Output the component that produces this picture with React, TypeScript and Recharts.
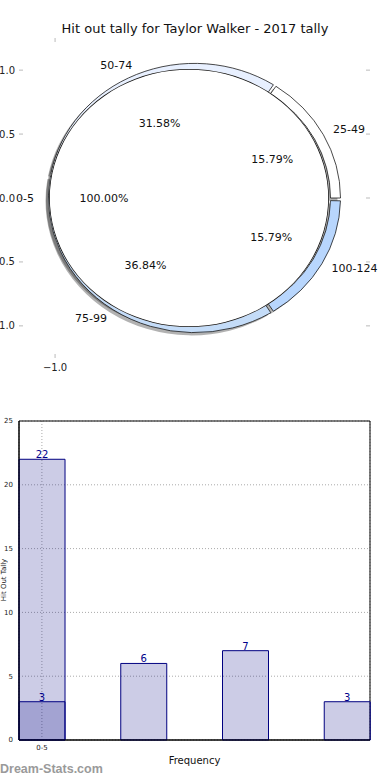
import {
  PieChart, Pie, Cell, LineChart, XAxis, YAxis,
  BarChart, Bar, CartesianGrid, LabelList, ReferenceArea,
} from 'recharts';

const ringBins = ['25-49', '50-74', '75-99', '100-124'];
const ringCounts = [3, 6, 7, 3];
const ringColors = ['#ffffff', '#e8f0ff', '#c4dcf8', '#b8d6fd'];
const innerBins = ['0-5'];
const innerCounts = [22];
const barPositions = [0, 1, 2, 3];
const barTotals = [22, null, null, null];
const yTicks = [-1, -0.5, 0, 0.5, 1];
const xTicks = [-1];
const barYTicks = [0, 5, 10, 15, 20, 25];

const FONT = '"DejaVu Sans", sans-serif';
const K = 0.922; // vertical squash of the pie (axes aspect)
const RAD = Math.PI / 180;

const ringData = ringBins.map((name, i) => ({ name, value: ringCounts[i] }));
const innerData = innerBins.map((name, i) => ({ name, value: innerCounts[i] }));
const barData = barPositions.map((pos, i) => ({ pos, hits: ringCounts[i], total: barTotals[i] }));
const axisRows = yTicks.map((t) => ({ t }));

const fmt = (v: number) => (v < 0 ? '\u2212' : '') + Math.abs(v).toFixed(1);

function makeLabel(nameDist: number, pctDist: number) {
  return (p: any) => {
    const { cx, cy, midAngle, name, percent } = p;
    const c = Math.cos(-midAngle * RAD);
    const s = Math.sin(-midAngle * RAD);
    const nx = cx + nameDist * c;
    const ny = cy + nameDist * s;
    const px = cx + pctDist * c;
    const py = cy + pctDist * s;
    const t = `scale(1 ${1 / K})`;
    return (
      <g>
        <g transform={`translate(${nx} ${ny})`}>
          <text transform={t} textAnchor={c >= 0 ? 'start' : 'end'} dominantBaseline="central"
            fontSize={11} fill="#111" fontFamily={FONT}>{name}</text>
        </g>
        <g transform={`translate(${px} ${py})`}>
          <text transform={t} textAnchor="middle" dominantBaseline="central"
            fontSize={11} fill="#111" fontFamily={FONT}>{(percent * 100).toFixed(2)}%</text>
        </g>
      </g>
    );
  };
}

export default function App() {
  return (
    <div style={{ position: 'absolute', left: 0, top: 0, width: 390, height: 780, overflow: 'hidden', background: '#fff', fontFamily: FONT }}>
      <div style={{ position: 'absolute', left: 0, top: 21, width: 390, textAlign: 'center', fontSize: 13, color: '#111' }}>
        Hit out tally for Taylor Walker - 2017 tally
      </div>

      <div style={{ position: 'absolute', left: -27, top: 0 }}>
        <LineChart width={403} height={384} data={axisRows} margin={{ top: 32, right: 0, bottom: 0, left: 0 }}>
          <XAxis xAxisId="b" dataKey="t" type="number" orientation="bottom" height={30} domain={[-1.23, 1.23]} ticks={xTicks}
            allowDataOverflow tickFormatter={fmt} tickSize={4} tickMargin={6} axisLine={false} tickLine={{ stroke: '#bbb' }}
            tick={{ fontSize: 10, fill: '#222', fontFamily: FONT }} />
          <XAxis xAxisId="t" dataKey="t" type="number" orientation="top" height={10} domain={[-1.23, 1.23]} ticks={xTicks}
            allowDataOverflow tickFormatter={() => ''} tickSize={4} axisLine={false} tickLine={{ stroke: '#bbb' }} />
          <YAxis yAxisId="l" dataKey="t" type="number" width={50} domain={[-1.22, 1.22]} ticks={yTicks}
            allowDataOverflow tickFormatter={fmt} tickSize={4} tickMargin={4} axisLine={false} tickLine={{ stroke: '#bbb' }}
            tick={{ fontSize: 10, fill: '#222', fontFamily: FONT }} />
          <YAxis yAxisId="r" dataKey="t" type="number" orientation="right" width={10} domain={[-1.22, 1.22]} ticks={yTicks}
            allowDataOverflow tickFormatter={() => ''} tickSize={4} axisLine={false} tickLine={{ stroke: '#bbb' }} />
        </LineChart>
      </div>

      <div style={{ position: 'absolute', left: 0, top: 0, transform: `scaleY(${K})`, transformOrigin: '0px 198px' }}>
        <PieChart width={390} height={400} margin={{ top: 0, right: 0, bottom: 0, left: 0 }}>
          <Pie data={ringData} dataKey="value" nameKey="name" cx={191.5} cy={201} innerRadius={136} outerRadius={146}
            startAngle={0} endAngle={360} paddingAngle={1.2} stroke="none" fill="#000" fillOpacity={0.3} isAnimationActive={false} />
          <Pie data={innerData} dataKey="value" nameKey="name" cx={186} cy={201} innerRadius={0} outerRadius={140}
            startAngle={0} endAngle={360} stroke="none" fill="#000" fillOpacity={0.3} isAnimationActive={false} />
          <Pie data={ringData} dataKey="value" nameKey="name" cx={194.5} cy={198} innerRadius={136} outerRadius={146}
            startAngle={0} endAngle={360} paddingAngle={1.2} stroke="#111" strokeWidth={0.8}
            label={makeLabel(157, 88)} labelLine={false} isAnimationActive={false}>
            {ringData.map((d, i) => <Cell key={d.name} fill={ringColors[i]} />)}
          </Pie>
          <Pie data={innerData} dataKey="value" nameKey="name" cx={189} cy={198} innerRadius={0} outerRadius={140}
            startAngle={0} endAngle={360} stroke="none" fill="#fff"
            label={makeLabel(155, 85)} labelLine={false} isAnimationActive={false} />
          <Pie data={innerData} dataKey="value" nameKey="name" cx={189} cy={198} innerRadius={139.2} outerRadius={140}
            startAngle={0} endAngle={360} stroke="none" fill="#111" isAnimationActive={false} />
        </PieChart>
      </div>

      <div style={{ position: 'absolute', left: 0, top: 411 }}>
        <BarChart width={390} height={359} data={barData} margin={{ top: 10, right: 20, bottom: 0, left: 0 }}>
          <CartesianGrid xAxisId="main" strokeDasharray="1 2" stroke="#aaa" />
          <XAxis xAxisId="main" dataKey="pos" type="number" domain={[-0.225, 3.225]} ticks={[0]} height={30}
            tickFormatter={() => '0-5'} tickLine={false} tickSize={3} axisLine={{ stroke: '#000' }}
            tick={{ fontSize: 7, fill: '#222', fontFamily: FONT }}
            label={{ value: 'Frequency', position: 'insideBottom', offset: 6, fontSize: 10, fill: '#111', fontFamily: FONT }} />
          <XAxis xAxisId="over" dataKey="pos" type="number" domain={[-0.225, 3.225]} hide />
          <YAxis domain={[0, 25]} ticks={barYTicks} width={19} tickLine={false} tickSize={4}
            axisLine={{ stroke: '#000' }} tick={{ fontSize: 7, fill: '#222', fontFamily: FONT }} />
          <ReferenceArea xAxisId="main" x1={-0.225} x2={3.225} y1={0} y2={25} fill="none" stroke="#000" strokeWidth={1} ifOverflow="visible" />
          <Bar xAxisId="over" dataKey="total" barSize={46} fill="rgba(0,0,128,0.2)" stroke="#000080" strokeWidth={1} isAnimationActive={false}>
            <LabelList dataKey="total" position="top" offset={1} fill="#00008b" fontSize={10} fontFamily={FONT} />
          </Bar>
          <Bar xAxisId="main" dataKey="hits" barSize={46} fill="rgba(0,0,128,0.2)" stroke="#000080" strokeWidth={1} isAnimationActive={false}>
            <LabelList dataKey="hits" position="top" offset={1} fill="#00008b" fontSize={10} fontFamily={FONT} />
          </Bar>
        </BarChart>
      </div>

      <div style={{ position: 'absolute', left: 4, top: 580, transform: 'translate(-50%, -50%) rotate(-90deg)', fontSize: 7, color: '#111', whiteSpace: 'nowrap' }}>
        Hit Out Tally
      </div>
      <div style={{ position: 'absolute', left: 0, top: 762, fontSize: 12.5, fontWeight: 'bold', color: '#9a9a9a', fontFamily: '"Liberation Sans", Arial, sans-serif' }}>
        Dream-Stats.com
      </div>
    </div>
  );
}
